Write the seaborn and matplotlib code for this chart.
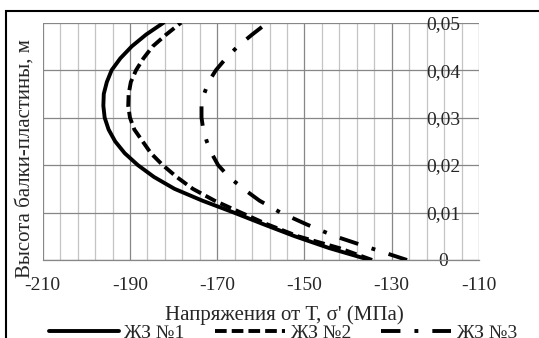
import numpy as np
import pandas as pd
import matplotlib
matplotlib.use("Agg")
import matplotlib.pyplot as plt
from matplotlib.ticker import MultipleLocator, FixedLocator
from matplotlib.patches import Rectangle
import seaborn as sns

# ---- data ----
heights = [0, 0.0025, 0.005, 0.0075, 0.01, 0.0125, 0.015, 0.0175, 0.02,
           0.0225, 0.025, 0.0275, 0.03, 0.0325, 0.035, 0.0375, 0.04,
           0.0425, 0.045, 0.0475, 0.05]
zz1 = [-135.0, -144.3, -152.2, -159.3, -166.2, -173.4, -179.8, -184.5, -188.2,
       -191.2, -193.4, -194.9, -195.8, -196.1, -196.0, -195.3, -194.2,
       -192.2, -189.6, -186.3, -182.3]
zz2 = [-134.5, -142.0, -151.5, -158.5, -164.6, -170.6, -175.6, -179.3, -182.5,
       -185.2, -187.1, -189.0, -190.0, -190.4, -190.3, -189.8, -188.6,
       -186.9, -184.8, -181.7, -178.3]
zz3 = [-126.5, -134.8, -143.0, -149.5, -155.5, -160.3, -164.0, -167.3, -169.8,
       -171.3, -172.4, -173.2, -173.6, -173.6, -173.0, -172.0, -170.3,
       -168.0, -165.3, -162.0, -158.5]
series_names = ["ЖЗ №1", "ЖЗ №2", "ЖЗ №3"]
x_ticks = [-210, -190, -170, -150, -130, -110]
y_ticks = [0, 0.01, 0.02, 0.03, 0.04, 0.05]
y_tick_labels = ["0", "0,01", "0,02", "0,03", "0,04", "0,05"]
x_label = "Напряжения от Т, σ' (МПа)"
y_label = "Высота балки-пластины, м"

df = pd.concat([
    pd.DataFrame({"x": vals, "y": heights, "series": name})
    for name, vals in zip(series_names, [zz1, zz2, zz3])
], ignore_index=True)

# ---- style ----
sns.set_style("white")
plt.rcParams["font.family"] = ["Liberation Serif", "DejaVu Serif"]
plt.rcParams["axes.unicode_minus"] = False

W, H = 539, 338
fig = plt.figure(figsize=(W / 100, H / 100), dpi=100)
L, R, T, B = 42.7, 479.0, 22.7, 260.0
ax = fig.add_axes([L / W, (H - B) / H, (R - L) / W, (B - T) / H])

sns.lineplot(data=df, x="x", y="y", hue="series", style="series",
             palette=["black"] * 3,
             dashes={"ЖЗ №1": "", "ЖЗ №2": (3.0, 1.3), "ЖЗ №3": (5.0, 3.6, 1.0, 3.6)},
             estimator=None, orient="y", sort=True, linewidth=2.8,
             legend=False, ax=ax, zorder=5)

ax.set_xlim(-210, -110)
ax.set_ylim(0, 0.05)
ax.xaxis.set_major_locator(FixedLocator(x_ticks))
ax.xaxis.set_minor_locator(MultipleLocator(4, offset=2))
ax.yaxis.set_major_locator(FixedLocator(y_ticks))
ax.set_xticklabels([str(v) for v in x_ticks], fontsize=14)

ax.grid(which="major", axis="both", color="#878787", lw=0.9, zorder=0)
ax.grid(which="minor", axis="x", color="#c4c4c4", lw=0.9, zorder=0)
ax.set_axisbelow(True)

for s in ["left", "top", "right"]:
    ax.spines[s].set_visible(False)
ax.spines["bottom"].set_color("#878787")
ax.spines["bottom"].set_linewidth(0.9)

ax.tick_params(axis="x", which="major", direction="out", length=5, width=0.9,
               color="#878787", pad=7, labelsize=14)
ax.tick_params(axis="x", which="minor", length=0)

ax.yaxis.tick_right()
ax.set_yticklabels(y_tick_labels)
ax.tick_params(axis="y", which="major", length=0, pad=-25.5, labelsize=14)
for lab in ax.get_yticklabels():
    lab.set_horizontalalignment("center")

ax.set_xlabel("")
ax.set_ylabel("")
fig.text(284.5 / W, (H - 315) / H, x_label, ha="center", va="center", fontsize=15)
fig.text(25.5 / W, (H - 159) / H, y_label, ha="center", va="center",
         rotation=90, fontsize=15)

handles = ax.get_lines()[:3]
fig.legend(handles, series_names, loc="center", ncol=3,
           bbox_to_anchor=(283 / W, (H - 333) / H), frameon=False,
           fontsize=14, handlelength=3.6, handletextpad=0.3,
           columnspacing=1.55, borderpad=0, borderaxespad=0)

fig.patches.append(Rectangle((5.5 / W, -0.2), 1.2, 1.2 - 10.5 / H,
                             transform=fig.transFigure, fill=False,
                             lw=1.5, ec="black"))

fig.savefig("out.png", dpi=100)
